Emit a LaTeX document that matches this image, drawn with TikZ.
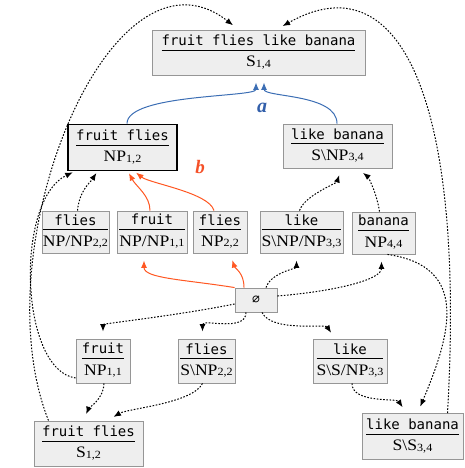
\documentclass[tikz,border=0pt]{standalone}
\usepackage{fontspec}
\usetikzlibrary{arrows.meta}
\newfontfamily\monof{DejaVu Sans Mono}
\newfontfamily\serff{Liberation Serif}[FakeStretch=1.1]
\newfontfamily\labf{Liberation Serif}
\definecolor{boxfill}{RGB}{238,238,238}
\definecolor{boxline}{RGB}{150,150,150}
\definecolor{cblue}{RGB}{60,110,180}
\definecolor{lblue}{RGB}{50,95,170}
\definecolor{cred}{RGB}{255,87,34}
\definecolor{lred}{RGB}{245,80,40}
\setlength{\arrayrulewidth}{1pt}
\newcommand\catcell[3]{\begin{tabular}{@{}c@{}}{\fontsize{14}{16}\monof #1}\\[0.5pt]\hline\rule{0pt}{16pt}{\fontsize{16}{17}\serff #2\raisebox{-0.5pt}{\fontsize{11}{12}\selectfont #3}}\end{tabular}}
\tikzset{
  cat/.style={draw=boxline, fill=boxfill, line width=0.9pt, inner xsep=1pt, inner ysep=0pt, minimum height=44pt},
  arr/.style={-{Latex[length=7.5pt,width=6pt]}, line width=1pt},
  bl/.style={arr, draw=cblue, shorten >=7pt},
  rd/.style={arr, draw=cred, shorten >=7pt},
  dt/.style={arr, draw=black, dash pattern=on 1.6pt off 1.6pt, shorten >=7pt},
}
\begin{document}
\begin{tikzpicture}[x=1pt,y=-1pt]
\useasboundingbox (0,0) rectangle (464,468);
\node[cat, minimum width=213pt, minimum height=45pt] (s14) at (258.5,52.5) {\catcell{fruit flies like banana}{S}{1,4}};
\node[cat, draw=black, line width=1.8pt, minimum width=109pt, minimum height=46pt] (np12) at (122.5,147.5) {\catcell{fruit flies}{NP}{1,2}};
\node[cat, minimum width=109pt] (snp34) at (337.5,146) {\catcell{like banana}{S\textbackslash NP}{3,4}};
\node[cat, minimum width=65pt, minimum height=42pt] (fl22) at (75.5,232) {\catcell{flies}{NP/NP}{2,2}};
\node[cat, minimum width=70pt, minimum height=42pt] (fr11) at (152,232) {\catcell{fruit}{NP/NP}{1,1}};
\node[cat, minimum width=54pt, minimum height=42pt] (npfl) at (220,232) {\catcell{flies}{NP}{2,2}};
\node[cat, minimum width=83pt, minimum height=42pt] (lk33) at (301.5,232) {\catcell{like}{S\textbackslash NP/NP}{3,3}};
\node[cat, minimum width=63pt, minimum height=42pt] (bn44) at (383.5,233) {\catcell{banana}{NP}{4,4}};
\node[cat, minimum width=42pt, minimum height=24pt] (empty) at (256,300) {\fontsize{13}{14}\monof ∅};
\node[cat, minimum width=54pt] (n11) at (103,361) {\catcell{fruit}{NP}{1,1}};
\node[cat, minimum width=57pt] (snp22) at (206.5,361) {\catcell{flies}{S\textbackslash NP}{2,2}};
\node[cat, minimum width=74pt] (ss33) at (350,361) {\catcell{like}{S\textbackslash S/NP}{3,3}};
\node[cat, minimum width=109pt, minimum height=45pt] (s12) at (88.5,443.5) {\catcell{fruit flies}{S}{1,2}};
\node[cat, minimum width=101pt, minimum height=46pt] (ss34) at (412.5,436.5) {\catcell{like banana}{S\textbackslash S}{3,4}};
\node[text=lblue] (la) at (262,108) {\fontsize{20}{20}\labf\bfseries\itshape a};
\node[text=lred] (lb) at (200,167) {\fontsize{19}{20}\labf\bfseries\itshape b};
% blue
\draw[bl] ([xshift=4.5pt]np12.north) .. controls +(0,-30) and +(0,22) .. ([xshift=-2.5pt]s14.south);
\draw[bl] ([xshift=-0.5pt]snp34.north) .. controls +(0,-30) and +(0,22) .. ([xshift=5.5pt]s14.south);
% red
\draw[rd, shorten >=2pt] ([xshift=-2pt]fr11.north) .. controls +(0,-15) and +(8,15) .. ([xshift=5.5pt]np12.south);
\draw[rd, shorten >=2pt] ([xshift=-6pt]npfl.north) .. controls +(-5,-18) and +(15,12) .. ([xshift=12pt]np12.south);
\draw[rd] (empty.north west) .. controls +(-50,-8) and +(0,25) .. ([xshift=-8pt]fr11.south);
\draw[rd] ([xshift=-12pt]empty.north) .. controls +(0,-15) and +(5,15) .. ([xshift=10pt]npfl.south);
% dotted
\draw[dt] ([xshift=10pt]empty.north) .. controls +(5,-15) and +(0,15) .. ([xshift=-5pt]lk33.south);
\draw[dt] ([yshift=4pt]empty.east) .. controls +(60,-5) and +(0,25) .. ([xshift=-2pt]bn44.south);
\draw[dt] ([yshift=-4pt]empty.west) .. controls +(-60,12) and +(0,-15) .. (n11.north);
\draw[dt] ([xshift=-10pt]empty.south) .. controls +(0,20) and +(0,-20) .. ([xshift=-4pt]snp22.north);
\draw[dt] ([xshift=6pt]empty.south) .. controls +(10,20) and +(-10,-15) .. ([xshift=-15pt]ss33.north);
\draw[dt] ([xshift=-2pt]lk33.north) .. controls +(5,-15) and +(-5,15) .. ([xshift=4pt]snp34.south);
\draw[dt] ([xshift=-4pt]bn44.north) .. controls +(-3,-20) and +(10,8) .. ([xshift=20pt]snp34.south);
\draw[dt, shorten >=2pt] ([xshift=2pt]fl22.north) .. controls +(2,-20) and +(-8,12) .. ([xshift=-25pt]np12.south);
\draw[dt, shorten >=2pt] ([yshift=-17pt]n11.west) .. controls +(-56,-8) and +(-60,29) .. ([xshift=-48pt]np12.south);
\draw[dt] ([xshift=-40pt]s12.north) .. controls +(-68,-171) and +(-128,-100) .. ([xshift=-20pt]s14.north);
\draw[dt] ([xshift=1pt]n11.south) .. controls +(0,15) and +(5,-12) .. ([xshift=-5pt]s12.north);
\draw[dt] ([xshift=-4pt]snp22.south) .. controls +(-10,20) and +(20,-12) .. ([xshift=19pt]s12.north);
\draw[dt] ([xshift=2pt]ss33.south) .. controls +(0,20) and +(-10,-15) .. ([xshift=-6pt]ss34.north);
\draw[dt] ([xshift=4pt]bn44.south) .. controls +(83,12) and +(33,-78) .. ([xshift=5pt]ss34.north);
\draw[dt] ([xshift=35pt]ss34.north) .. controls +(18,-313) and +(124,-70) .. ([xshift=18pt]s14.north);
\end{tikzpicture}
\end{document}
